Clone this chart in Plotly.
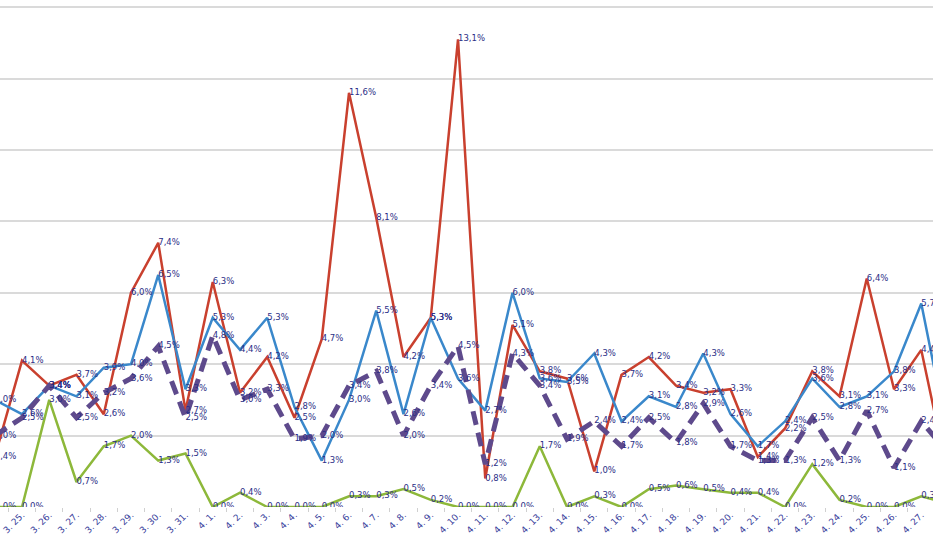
import plotly.graph_objects as go

dates = ["3. 24.", "3. 25.", "3. 26.", "3. 27.", "3. 28.", "3. 29.", "3. 30.", "3. 31.",
         "4. 1.", "4. 2.", "4. 3.", "4. 4.", "4. 5.", "4. 6.", "4. 7.", "4. 8.", "4. 9.",
         "4. 10.", "4. 11.", "4. 12.", "4. 13.", "4. 14.", "4. 15.", "4. 16.", "4. 17.",
         "4. 18.", "4. 19.", "4. 20.", "4. 21.", "4. 22.", "4. 23.", "4. 24.", "4. 25.",
         "4. 26.", "4. 27.", "4. 28."]

red = [1.4, 4.1, 3.4, 3.7, 2.6, 6.0, 7.4, 2.7, 6.3, 3.2, 4.2, 2.5, 4.7, 11.6, 8.1, 4.2, 5.3,
       13.1, 0.8, 5.1, 3.8, 3.6, 1.0, 3.7, 4.2, 3.4, 3.2, 3.3, 1.4, 2.2, 3.8, 3.1, 6.4,
       3.3, 4.4, 0.8]
blue = [3.0, 2.6, 3.4, 3.1, 3.9, 4.0, 6.5, 3.3, 5.3, 4.4, 5.3, 2.8, 1.3, 3.0, 5.5, 2.6, 5.3,
        3.6, 2.7, 6.0, 3.6, 3.5, 4.3, 2.4, 3.1, 2.8, 4.3, 2.6, 1.7, 2.4, 3.6, 2.8, 3.1,
        3.8, 5.7, 1.9]
green = [0.0, 0.0, 3.0, 0.7, 1.7, 2.0, 1.3, 1.5, 0.0, 0.4, 0.0, 0.0, 0.0, 0.3, 0.3, 0.5, 0.2,
         0.0, 0.0, 0.0, 1.7, 0.0, 0.3, 0.0, 0.5, 0.6, 0.5, 0.4, 0.4, 0.0, 1.2, 0.2, 0.0,
         0.0, 0.3, 0.1]
purple = [2.0, 2.5, 3.4, 2.5, 3.2, 3.6, 4.5, 2.5, 4.8, 3.0, 3.3, 1.9, 2.0, 3.4, 3.8, 2.0, 3.4,
          4.5, 1.2, 4.3, 3.4, 1.9, 2.4, 1.7, 2.5, 1.8, 2.9, 1.7, 1.3, 1.3, 2.5, 1.3, 2.7,
          1.1, 2.4, 1.5]

x = list(range(len(dates)))


def fmt(v):
    return f"{v:.1f}".replace(".", ",") + "%"


series = [
    (red, "#C9402E", 2.5, "solid"),
    (blue, "#3A88CB", 2.5, "solid"),
    (green, "#8DB83A", 2.5, "solid"),
    (purple, "#5E4A8C", 5, "14px,8px"),
]

fig = go.Figure()
for vals, col, w, dash in series:
    fig.add_trace(go.Scatter(x=x, y=vals, mode="lines",
                             line=dict(color=col, width=w, dash=dash),
                             showlegend=False, hoverinfo="skip"))

for vals, col, w, dash in series:
    fig.add_trace(go.Scatter(x=x, y=vals, mode="text",
                             text=[fmt(v) for v in vals],
                             textposition="middle right",
                             textfont=dict(family="DejaVu Sans", size=8.5, color="#2B2E86"),
                             showlegend=False, hoverinfo="skip"))

fig.update_layout(
    width=933, height=541,
    margin=dict(l=0, r=0, t=0, b=34, autoexpand=False),
    paper_bgcolor="white", plot_bgcolor="white",
)
fig.update_xaxes(
    automargin=False,
    range=[0.193, 34.43],
    tickmode="array", tickvals=x, ticktext=dates,
    tickangle=-45, ticks="",
    tickfont=dict(family="DejaVu Sans", size=9, color="#3B3F9C"),
    showgrid=False, zeroline=False, showline=False,
    minor=dict(ticks="outside", tick0=0.5, dtick=1, ticklen=4,
               tickcolor="#D0D0D0", showgrid=False),
)
fig.update_yaxes(
    automargin=False,
    range=[0, 14.2], dtick=2, tick0=0,
    showticklabels=False, ticks="",
    showgrid=True, gridcolor="#DADADA", gridwidth=1.5,
    zeroline=False, showline=False,
)

fig.write_html("out.html",
               config={"displayModeBar": False},
               post_script="document.body.style.margin='0';document.body.style.overflow='hidden';")
